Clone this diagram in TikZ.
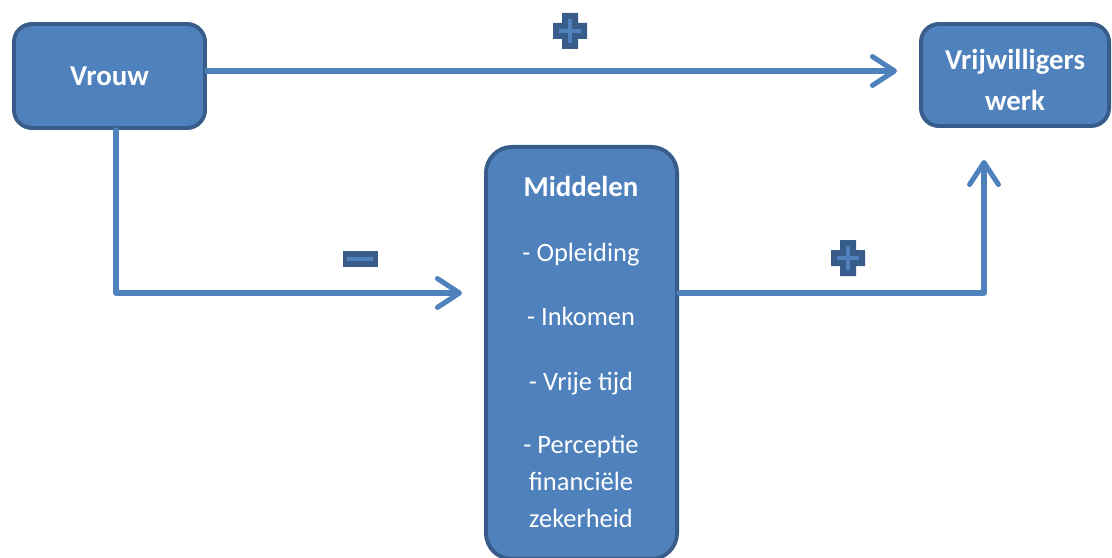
\documentclass[tikz,border=0pt]{standalone}
\usepackage{fontspec}
\setmainfont{Carlito}
\usetikzlibrary{arrows.meta,positioning}
\definecolor{boxfill}{HTML}{4F81BD}
\definecolor{boxline}{HTML}{385D8A}
\tikzset{
	box/.style={draw=boxline, line width=2.8pt, fill=boxfill, rounded corners=0.45cm, text=white, align=center,
		font=\fontsize{20.5}{29}\selectfont\bfseries},
	item/.style={text=white, align=center, inner sep=0pt, anchor=base, font=\fontsize{18.8}{26.3}\selectfont},
	head/.style={item, font=\fontsize{20.5}{29}\selectfont\bfseries},
	link/.style={draw=boxfill, line width=3.6pt, line cap=round, line join=round,
		-{Straight Barb[length=0.55cm, width=0.72cm, line cap=round, line join=round]}},
	plussign/.pic={
		\fill[boxline] (-8,-18)--(8,-18)--(8,-8)--(17,-8)--(17,8)--(8,8)--(8,18)
			--(-8,18)--(-8,8)--(-17,8)--(-17,-8)--(-8,-8)--cycle;
		\draw[boxfill, line width=0.1cm] (-11,0)--(11,0) (0,-12)--(0,12);
	},
	minussign/.pic={
		\fill[boxline] (-17.5,-8) rectangle (17.5,8);
		\draw[boxfill, line width=0.1cm] (-13,0)--(13,0);
	},
}
\begin{document}
\begin{tikzpicture}[x=0.025cm, y=-0.025cm]
	\useasboundingbox (0,0) rectangle (1112,558);
	% boxes
	\node[box, minimum width=4.775cm, minimum height=2.6cm] (vrouw) at (109.5,76) {Vrouw};
	\node[box, minimum width=4.7cm, minimum height=2.55cm] (vrij) at (1015,75) {};
	\node[head] (vrijtxt) at (1015,110) {Vrijwilligers\\werk};
	\node[box, rounded corners=0.65cm, minimum width=4.775cm, minimum height=10.3cm] (mid) at (581.5,353) {};
	\node[head] (midhead) at (581,196) {Middelen};
	\node[item] (opl) at (581,261) {- Opleiding};
	\node[item] (ink) at (581,325) {- Inkomen};
	\node[item] (vrt) at (581,390) {- Vrije tijd};
	\node[item] (perc) at (581,527) {- Perceptie\\financiële\\zekerheid};
	% connectors
	\draw[link, shorten >=0.55cm] (vrouw.east |- 0,71) -- (vrij.west |- 0,71);
	\draw[link, shorten >=0.55cm] (vrouw.south -| 116,0) |- (mid.west |- 0,293);
	\draw[link, shorten >=0.8cm] (mid.east |- 0,293) -| (vrij.south -| 984,0);
	% signs
	\pic at (570,31) {plussign};
	\pic at (848,258) {plussign};
	\pic at (360,259) {minussign};
\end{tikzpicture}
\end{document}
